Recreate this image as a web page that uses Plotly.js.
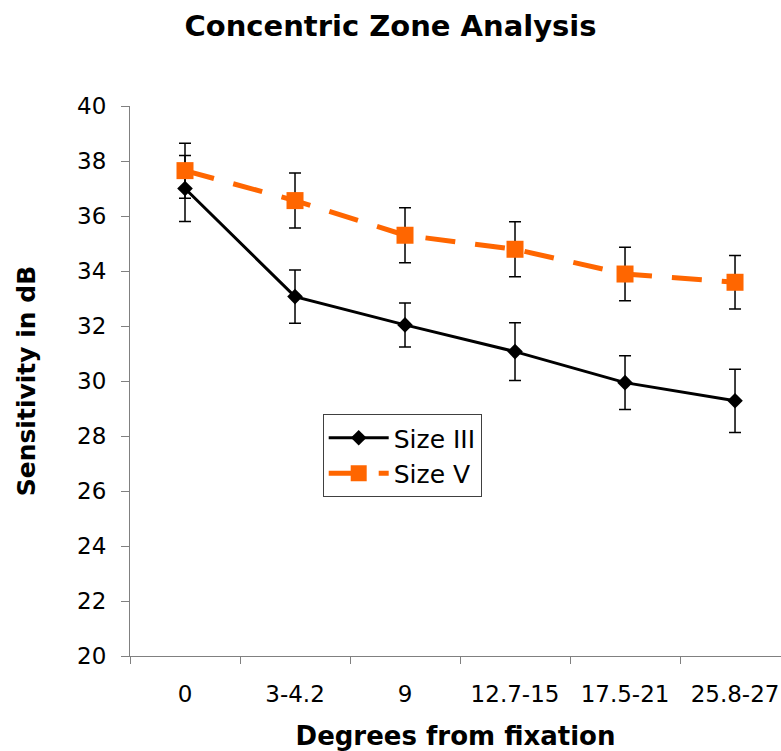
<!DOCTYPE html>
<html>
<head>
<meta charset="utf-8">
<script src="https://cdn.plot.ly/plotly-3.0.1.min.js"></script>
<style>html,body{margin:0;padding:0;background:#fff;}#chart{width:781px;height:751px;}</style>
</head>
<body>
<div id="chart"></div>
<script>
const categories = ["0", "3-4.2", "9", "12.7-15", "17.5-21", "25.8-27"];
const sizeIII = [37.0, 33.07, 32.04, 31.07, 29.94, 29.28];
const sizeIIIErr = [1.2, 0.97, 0.8, 1.05, 0.98, 1.15];
const sizeV = [37.65, 36.56, 35.3, 34.79, 33.89, 33.59];
const sizeVErr = [1.0, 1.0, 1.0, 1.0, 0.97, 0.97];
const yTicks = [20, 22, 24, 26, 28, 30, 32, 34, 36, 38, 40];

const FONT = "DejaVu Sans, Verdana, sans-serif";

const traces = [
  {
    x: categories, y: sizeIII, name: "Size III", type: "scatter", mode: "lines+markers",
    line: {color: "#000000", width: 3},
    marker: {symbol: "diamond", size: 12, color: "#000000"},
    error_y: {type: "data", array: sizeIIIErr, visible: true, color: "#000000", thickness: 1.5, width: 6}
  },
  {
    x: categories, y: sizeV, name: "Size V", type: "scatter", mode: "lines+markers",
    line: {color: "#FF6600", width: 5, dash: "30px,20px"},
    marker: {symbol: "square", size: 17, color: "#FF6600"},
    error_y: {type: "data", array: sizeVErr, visible: true, color: "#000000", thickness: 1.5, width: 6}
  }
];

const layout = {
  width: 781, height: 751,
  margin: {l: 130, r: 0, t: 106, b: 95, pad: 0},
  paper_bgcolor: "#ffffff", plot_bgcolor: "#ffffff",
  font: {family: FONT, color: "#000000", size: 23},
  title: {text: "<b>Concentric Zone Analysis</b>", font: {family: FONT, size: 29, color: "#000"},
          x: 0.5, xref: "container", y: 1 - 26/751, yref: "container", yanchor: "middle"},
  xaxis: {
    type: "category", range: [-0.5, 5.418], tickson: "boundaries",
    showline: true, linecolor: "#808080", linewidth: 1,
    ticks: "outside", ticklen: 7, tickcolor: "#808080", tickwidth: 1,
    showgrid: false, zeroline: false,
    tickfont: {family: FONT, size: 23, color: "#000"},
    ticklabelstandoff: 17,
    title: {text: "<b>Degrees from fixation</b>", font: {family: FONT, size: 26, color: "#000"}, standoff: 34}
  },
  yaxis: {
    range: [20, 40], tickvals: yTicks, ticktext: yTicks.map(String),
    showline: true, linecolor: "#808080", linewidth: 1,
    ticks: "outside", ticklen: 8, tickcolor: "#808080", tickwidth: 1,
    showgrid: false, zeroline: false,
    tickfont: {family: FONT, size: 23, color: "#000"},
    ticklabelstandoff: 10,
    title: {text: "<b>Sensitivity in dB</b>", font: {family: FONT, size: 25, color: "#000"}, standoff: 34}
  },
  showlegend: true,
  legend: {
    x: 0.296, y: 0.44, xanchor: "left", yanchor: "top",
    bordercolor: "#404040", borderwidth: 1, bgcolor: "#ffffff",
    font: {family: FONT, size: 25, color: "#000"},
    tracegroupgap: 0, itemwidth: 60
  }
};

Plotly.newPlot("chart", traces, layout, {displayModeBar: false, staticPlot: true});
</script>
</body>
</html>
